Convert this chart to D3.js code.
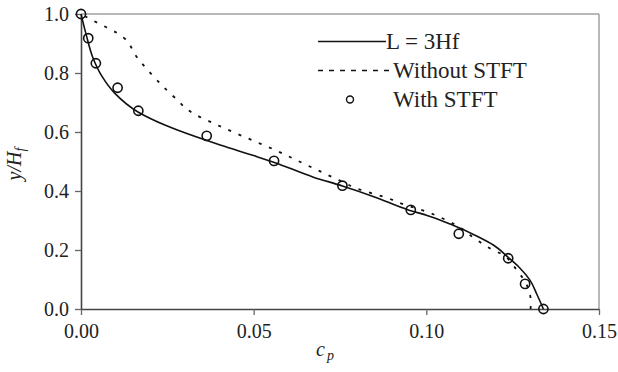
<!DOCTYPE html>
<html>
<head>
<meta charset="utf-8">
<script src="https://cdn.jsdelivr.net/npm/d3@7"></script>
<style>
  body { margin: 0; background: #fff; }
  svg text { font-family: "Liberation Serif", "Times New Roman", serif; fill: #222; }
</style>
</head>
<body>
<svg id="chart" width="618" height="372"></svg>
<script>
// L = 3Hf (solid)
var solidCp = [0, 0.0015, 0.0035, 0.006, 0.0098, 0.0165, 0.0248, 0.0403, 0.05, 0.056, 0.0673, 0.0757, 0.085, 0.095, 0.1, 0.1069, 0.115, 0.1194, 0.1237, 0.127, 0.13, 0.132, 0.1339];
var solidY = [1.0, 0.93, 0.85, 0.79, 0.731, 0.668, 0.621, 0.556, 0.52, 0.497, 0.447, 0.417, 0.38, 0.335, 0.318, 0.288, 0.245, 0.217, 0.175, 0.14, 0.098, 0.05, 0];

// Without STFT (dotted)
var dottedCp = [0, 0.0031, 0.0065, 0.0105, 0.0122, 0.0161, 0.0224, 0.0272, 0.0325, 0.0383, 0.045, 0.05, 0.056, 0.065, 0.075, 0.0798, 0.0895, 0.0922, 0.1, 0.1085, 0.1146, 0.1184, 0.1218, 0.1262, 0.1295, 0.1302, 0.1302];
var dottedY = [1.0, 0.98, 0.96, 0.935, 0.921, 0.855, 0.771, 0.716, 0.663, 0.63, 0.595, 0.57, 0.54, 0.49, 0.435, 0.409, 0.373, 0.36, 0.33, 0.285, 0.234, 0.206, 0.186, 0.132, 0.07, 0.03, 0];

// With STFT (circles)
var circCp = [0, 0.0021, 0.0043, 0.0106, 0.0166, 0.0364, 0.0559, 0.0757, 0.0955, 0.1094, 0.1237, 0.1286, 0.1339];
var circY = [1.0, 0.918, 0.833, 0.750, 0.672, 0.587, 0.502, 0.418, 0.336, 0.255, 0.172, 0.085, 0];

var xTicks = [0, 0.05, 0.10, 0.15];
var yTicks = [0, 0.2, 0.4, 0.6, 0.8, 1.0];
var legendNames = ["L = 3Hf", "Without STFT", "With STFT"];

var margin = {top: 14, right: 19, bottom: 63, left: 81},
  width = 618 - margin.left - margin.right,
  height = 372 - margin.top - margin.bottom;

var svg = d3.select("#chart");
var g = svg.append("g")
  .attr("transform", "translate(" + margin.left + "," + margin.top + ")");

var x = d3.scaleLinear().domain([0, 0.15]).range([0, width]);
var y = d3.scaleLinear().domain([0, 1.0]).range([height, 0]);

function zip(a, b) {
  return a.map(function(v, i) { return [v, b[i]]; });
}

// frame (top and right, light grey)
g.append("line").attr("x1", 0).attr("x2", width).attr("y1", 0).attr("y2", 0)
  .attr("stroke", "#a0a0a0").attr("stroke-width", 1.5);
g.append("line").attr("x1", width).attr("x2", width).attr("y1", 0).attr("y2", height)
  .attr("stroke", "#a0a0a0").attr("stroke-width", 1.5);

// axes
var xAxis = g.append("g")
  .attr("transform", "translate(0," + height + ")")
  .call(d3.axisBottom(x).tickValues(xTicks).tickFormat(d3.format(".2f")).tickSizeInner(6).tickSizeOuter(0).tickPadding(8));
var yAxis = g.append("g")
  .call(d3.axisLeft(y).tickValues(yTicks).tickFormat(d3.format(".1f")).tickSizeInner(6).tickSizeOuter(0).tickPadding(6));

[xAxis, yAxis].forEach(function(ax) {
  ax.attr("font-family", null);
  ax.select(".domain").attr("stroke", "#444").attr("stroke-width", 1.6);
  ax.selectAll(".tick line").attr("stroke", "#666").attr("stroke-width", 1.3);
  ax.selectAll(".tick text")
    .attr("font-size", 20)
    .attr("fill", "#222");
});
xAxis.selectAll(".tick text").attr("dy", "0.75em");

// lines: y decreases along each curve, so draw them bottom-up and smooth monotone in y
var line = d3.line()
  .x(function(d) { return x(d[0]); })
  .y(function(d) { return y(d[1]); })
  .curve(d3.curveMonotoneY);

g.append("path")
  .datum(zip(dottedCp, dottedY).reverse())
  .attr("d", line)
  .attr("fill", "none")
  .attr("stroke", "#111")
  .attr("stroke-width", 1.8)
  .attr("stroke-dasharray", "3,8");

g.append("path")
  .datum(zip(solidCp, solidY).reverse())
  .attr("d", line)
  .attr("fill", "none")
  .attr("stroke", "#111")
  .attr("stroke-width", 1.6);

g.selectAll(".pt")
  .data(zip(circCp, circY))
  .enter().append("circle")
  .attr("class", "pt")
  .attr("cx", function(d) { return x(d[0]); })
  .attr("cy", function(d) { return y(d[1]); })
  .attr("r", 4.6)
  .attr("fill", "none")
  .attr("stroke", "#111")
  .attr("stroke-width", 1.6);

// axis titles
svg.append("text")
  .attr("transform", "translate(21," + 164 + ") rotate(-90)")
  .attr("text-anchor", "middle")
  .attr("font-size", 20)
  .attr("font-style", "italic")
  .html('y/H<tspan font-size="14" dy="4">f</tspan>');

svg.append("text")
  .attr("x", 325)
  .attr("y", 356)
  .attr("text-anchor", "middle")
  .attr("font-size", 20)
  .attr("font-style", "italic")
  .html('c<tspan font-size="14" dx="2" dy="4">p</tspan>');

// legend
var legendY = [41.5, 70.5, 99.5];
var lg = svg.append("g");
lg.append("line").attr("x1", 318).attr("x2", 386).attr("y1", legendY[0]).attr("y2", legendY[0])
  .attr("stroke", "#111").attr("stroke-width", 1.6);
lg.append("line").attr("x1", 318).attr("x2", 390).attr("y1", legendY[1]).attr("y2", legendY[1])
  .attr("stroke", "#111").attr("stroke-width", 1.6).attr("stroke-dasharray", "5,6");
lg.append("circle").attr("cx", 350).attr("cy", legendY[2]).attr("r", 3.5)
  .attr("fill", "none").attr("stroke", "#111").attr("stroke-width", 1.4);
var textX = [386, 393, 393];
legendNames.forEach(function(name, i) {
  lg.append("text")
    .attr("x", textX[i])
    .attr("y", legendY[i] + 7)
    .attr("font-size", 23)
    .text(name);
});
</script>
</body>
</html>
